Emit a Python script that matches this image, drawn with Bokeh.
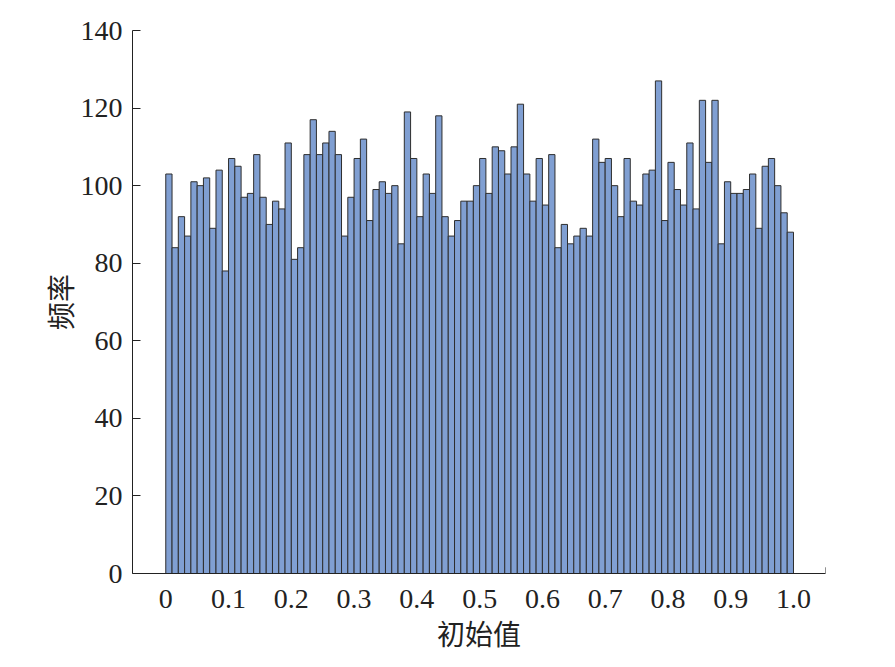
import numpy as np
from bokeh.plotting import figure
from bokeh.models import FixedTicker, Range1d
from bokeh.embed import file_html
from bokeh.resources import INLINE

# Histogram counts (100 bins over [0, 1])
counts = [103, 84, 92, 87, 101, 100, 102, 89, 104, 78,
          107, 105, 97, 98, 108, 97, 90, 96, 94, 111,
          81, 84, 108, 117, 108, 111, 114, 108, 87, 97,
          107, 112, 91, 99, 101, 98, 100, 85, 119, 107,
          92, 103, 98, 118, 92, 87, 91, 96, 96, 100,
          107, 98, 110, 109, 103, 110, 121, 103, 96, 107,
          95, 108, 84, 90, 85, 87, 89, 87, 112, 106,
          107, 100, 92, 107, 96, 95, 103, 104, 127, 91,
          106, 99, 95, 111, 94, 122, 106, 122, 85, 101,
          98, 98, 99, 103, 89, 105, 107, 100, 93, 88]
bin_lo = 0.0
bin_hi = 1.0
x_ticks = [0.0, 0.1, 0.2, 0.3, 0.4, 0.5, 0.6, 0.7, 0.8, 0.9, 1.0]
x_tick_labels = ["0", "0.1", "0.2", "0.3", "0.4", "0.5", "0.6", "0.7", "0.8", "0.9", "1.0"]
y_ticks = [0, 20, 40, 60, 80, 100, 120, 140]
x_label = "初始值"
y_label = "频率"

edges = np.linspace(bin_lo, bin_hi, len(counts) + 1)

X0, X1 = -0.053, 1.051
p = figure(width=880, height=655, output_backend="svg", toolbar_location=None,
           x_range=Range1d(X0, X1), y_range=Range1d(0, 140),
           min_border_left=132, min_border_right=55, min_border_top=30, min_border_bottom=77)
p.outline_line_color = None
p.xgrid.visible = False
p.ygrid.visible = False
p.background_fill_color = "white"
p.border_fill_color = "white"

p.quad(left=edges[:-1], right=edges[1:], bottom=0, top=counts,
       fill_color="#809fd2", line_color="#2e2e2e", line_width=1)

# small end tick at the right end of the x axis
p.segment(x0=[X1], x1=[X1], y0=[0], y1=[1.6], line_color="#222222", line_width=1)

text_color = "#222222"
serif = "Liberation Serif"
cjk = "Noto Sans CJK SC"

xa = p.xaxis[0]
xa.ticker = FixedTicker(ticks=x_ticks)
xa.major_label_overrides = {t: l for t, l in zip(x_ticks, x_tick_labels)}
xa.major_tick_line_color = None
xa.minor_tick_line_color = None
xa.axis_line_color = text_color
xa.major_label_text_font = serif
xa.major_label_text_font_size = "28px"
xa.major_label_text_color = text_color
xa.major_label_standoff = 10
xa.axis_label = x_label
xa.axis_label_text_font = cjk
xa.axis_label_text_font_size = "28px"
xa.axis_label_text_font_style = "normal"
xa.axis_label_text_color = text_color
xa.axis_label_standoff = 2

ya = p.yaxis[0]
ya.ticker = FixedTicker(ticks=y_ticks)
ya.major_tick_in = 8
ya.major_tick_out = 0
ya.major_tick_line_color = text_color
ya.minor_tick_line_color = None
ya.axis_line_color = text_color
ya.major_label_text_font = serif
ya.major_label_text_font_size = "28px"
ya.major_label_text_color = text_color
ya.major_label_standoff = 10
ya.axis_label = y_label
ya.axis_label_text_font = cjk
ya.axis_label_text_font_size = "28px"
ya.axis_label_text_font_style = "normal"
ya.axis_label_text_color = text_color
ya.axis_label_standoff = -2

open("out.html", "w").write(file_html(p, INLINE))
